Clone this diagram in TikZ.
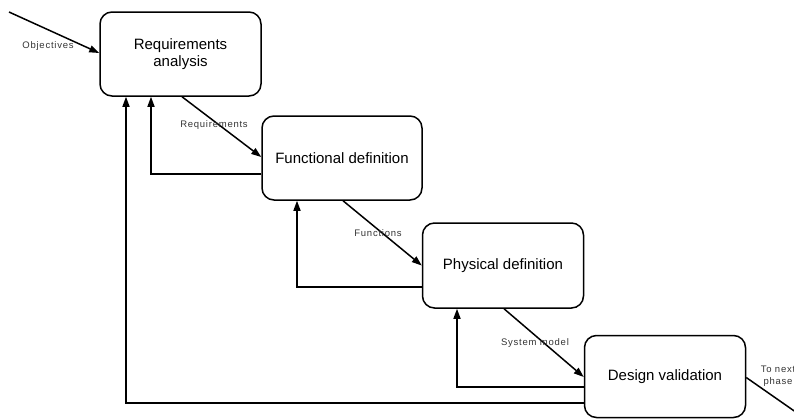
\documentclass[tikz,border=0pt]{standalone}
\usepackage{fontspec}
\setmainfont{Liberation Sans}
\newfontfamily\lblfont[LetterSpace=8]{Liberation Sans}
\usetikzlibrary{arrows.meta}
\begin{document}
\begin{tikzpicture}[x=1pt,y=-1pt,
  stage/.style={draw=black,line width=1.5pt,rounded corners=12pt,align=center,
    font=\fontsize{15}{17}\selectfont,inner sep=0pt},
  flow/.style={line width=1.5pt,-{Triangle[length=10pt,width=7pt]}},
  plain/.style={line width=1.5pt},
  lbl/.style={font=\lblfont\fontsize{9.5}{11.5}\selectfont,text=black!80,inner sep=0pt,align=center}]
\useasboundingbox (0,0) rectangle (794,418);
\node[stage,minimum width=161pt,minimum height=84pt] (b1) at (180.5,54) {Requirements\\analysis};
\node[stage,minimum width=160pt,minimum height=84pt] (b2) at (342,158) {Functional definition};
\node[stage,minimum width=161pt,minimum height=85pt] (b3) at (503,265.5) {Physical definition};
\node[stage,minimum width=161pt,minimum height=82pt] (b4) at (665,376.5) {Design validation};
\coordinate (objs) at (9,12);
\coordinate (next) at (800,415);
\draw[flow] (objs) -- ([yshift=1pt]b1.west);
\draw[flow] ([xshift=1.5pt]b1.south) -- ([yshift=1pt]b2.west);
\draw[flow] ([xshift=1pt]b2.south) -- (b3.west);
\draw[flow] ([xshift=1pt]b3.south) -- ([yshift=-0.5pt]b4.west);
\draw[plain] ([yshift=-1pt]b4.east) -- (next);
\draw[flow] ([yshift=-16pt]b2.west) -| ([xshift=-29.5pt]b1.south);
\draw[flow] ([yshift=-21.5pt]b3.west) -| ([xshift=-45pt]b2.south);
\draw[flow] ([yshift=-10.5pt]b4.west) -| ([xshift=-46pt]b3.south);
\draw[flow] ([yshift=-26.5pt]b4.west) -| ([xshift=-54.5pt]b1.south);
\node[lbl] (lobj) at (48,46) {Objectives};
\node[lbl] (lreq) at (214,125) {Requirements};
\node[lbl] (lfun) at (378,233) {Functions};
\node[lbl] (lsys) at (535,343) {System model};
\node[lbl] (lnext) at (778,376) {To next\\phase};
\end{tikzpicture}
\end{document}
